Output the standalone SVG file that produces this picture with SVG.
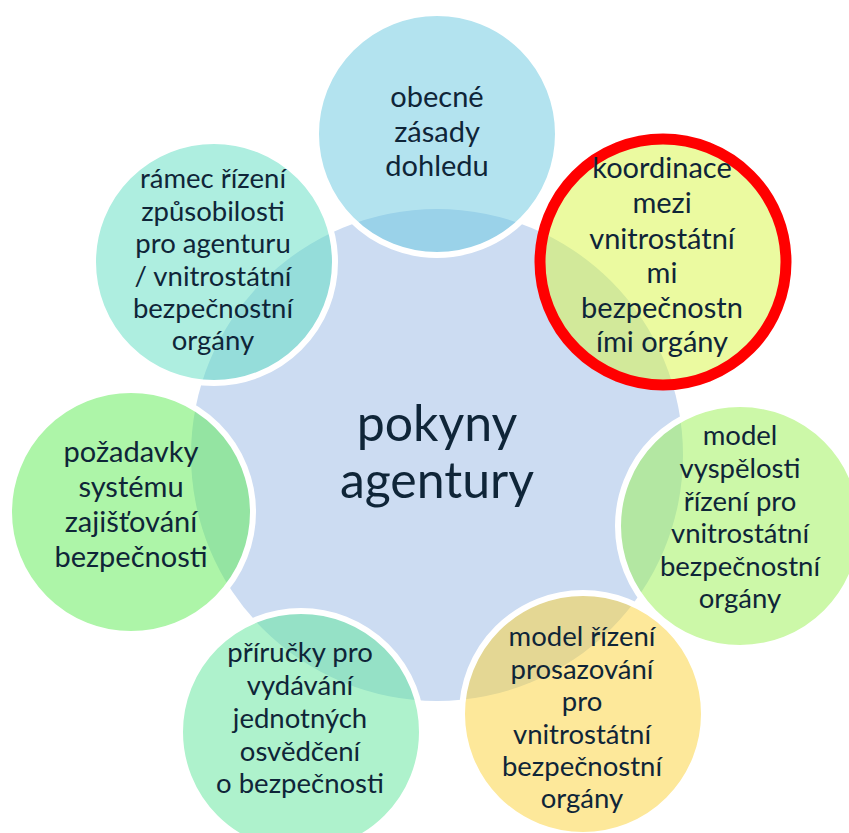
<svg xmlns="http://www.w3.org/2000/svg" width="849" height="833" viewBox="0 0 849 833">
<style>
.bub{stroke:#ffffff;stroke-width:6;fill-opacity:0.5}
.t{font-family:Lato,"Open Sans","Liberation Sans",sans-serif;fill:#0f2538;text-anchor:middle}
.s29{font-size:29px}
.s27{font-size:27.5px}
.big{font-size:50px}
</style>
<rect width="849" height="833" fill="#ffffff"/>
<g id="center">
<circle cx="437" cy="455" r="246" fill="#ccdcf2"/>
</g>
<g id="n-top">
<circle class="bub" cx="437" cy="134" r="121" fill="#67c7df"/>
<text class="t s29"><tspan x="437" y="107">obecné</tspan><tspan x="437" y="142">zásady</tspan><tspan x="437" y="176">dohledu</tspan></text>
</g>
<g id="n-koordinace">
<circle class="bub" cx="663" cy="262" r="123" fill="#d7f541"/>
<circle cx="663" cy="262" r="123" fill="none" stroke="#ff0000" stroke-width="11"/>
<text class="t s29"><tspan x="662" y="178">koordinace</tspan><tspan x="662" y="213">mezi</tspan><tspan x="662" y="249">vnitrostátní</tspan><tspan x="662" y="283">mi</tspan><tspan x="662" y="318">bezpečnostn</tspan><tspan x="662" y="352">ími orgány</tspan></text>
</g>
<g id="n-vyspelost">
<circle class="bub" cx="740" cy="526" r="122" fill="#99f151"/>
<text class="t s27"><tspan x="740" y="445">model</tspan><tspan x="740" y="478">vyspělosti</tspan><tspan x="740" y="511">řízení pro</tspan><tspan x="740" y="543">vnitrostátní</tspan><tspan x="740" y="576">bezpečnostní</tspan><tspan x="740" y="608">orgány</tspan></text>
</g>
<g id="n-prosazovani">
<circle class="bub" cx="583" cy="714" r="121" fill="#fbd135"/>
<text class="t s27"><tspan x="582" y="646">model řízení</tspan><tspan x="582" y="679">prosazování</tspan><tspan x="582" y="711">pro</tspan><tspan x="582" y="744">vnitrostátní</tspan><tspan x="582" y="776">bezpečnostní</tspan><tspan x="582" y="808">orgány</tspan></text>
</g>
<g id="n-prirucky">
<circle class="bub" cx="301" cy="732" r="121" fill="#5de599"/>
<text class="t s27"><tspan x="300" y="662">příručky pro</tspan><tspan x="300" y="695">vydávání</tspan><tspan x="300" y="728">jednotných</tspan><tspan x="300" y="761">osvědčení</tspan><tspan x="300" y="793">o bezpečnosti</tspan></text>
</g>
<g id="n-pozadavky">
<circle class="bub" cx="131" cy="512" r="122" fill="#5beb51"/>
<text class="t s29"><tspan x="131" y="462">požadavky</tspan><tspan x="131" y="497">systému</tspan><tspan x="131" y="532">zajišťování</tspan><tspan x="131" y="567">bezpečnosti</tspan></text>
</g>
<g id="n-ramec">
<circle class="bub" cx="214" cy="262" r="121" fill="#5dddc1"/>
<text class="t s27"><tspan x="213" y="188">rámec řízení</tspan><tspan x="213" y="221">způsobilosti</tspan><tspan x="213" y="253">pro agenturu</tspan><tspan x="213" y="286">/ vnitrostátní</tspan><tspan x="213" y="318">bezpečnostní</tspan><tspan x="213" y="350">orgány</tspan></text>
</g>
<g id="center-label">
<text class="t big"><tspan x="437" y="441">pokyny</tspan><tspan x="437" y="498">agentury</tspan></text>
</g>
</svg>
